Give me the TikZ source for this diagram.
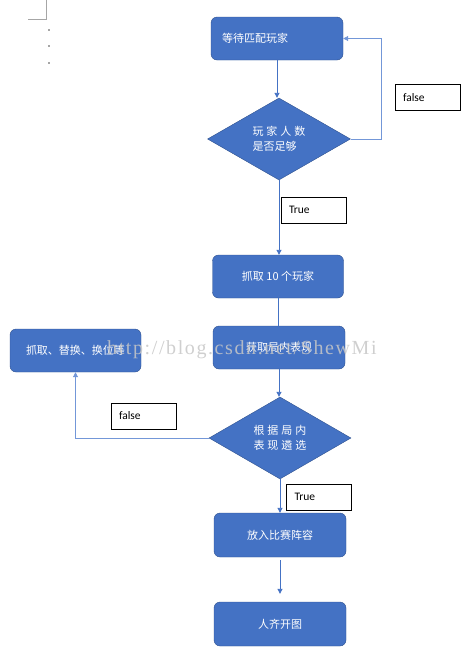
\documentclass[tikz,border=0pt]{standalone}
\usepackage{fontspec}
\setmainfont{Carlito}
\newfontfamily\cjk{Noto Sans CJK SC}
\newfontfamily\wmfont[LetterSpace=8]{Liberation Serif}
\usetikzlibrary{arrows.meta,shapes.geometric}
\definecolor{flblue}{HTML}{4472C4}
\definecolor{flborder}{HTML}{2F528F}
\definecolor{flloop}{HTML}{7397D8}
\definecolor{flmark}{HTML}{A6A6A6}
\newcommand{\gap}{\hspace{3pt}}
\tikzset{
  proc/.style = {rectangle, rounded corners=6pt, draw=flborder, fill=flblue,
                 minimum width=132pt, minimum height=43pt, text=white,
                 font=\cjk\fontsize{11}{14}\selectfont, align=center},
  cond/.style = {diamond, draw=flborder, fill=flblue, inner sep=0pt,
                 minimum width=143pt, minimum height=82pt, text=white,
                 font=\cjk\fontsize{11}{15}\selectfont, align=left},
  tag/.style  = {rectangle, draw=black, fill=white, minimum height=26pt,
                 text width=49pt, inner xsep=8pt, align=left,
                 font=\fontsize{11.5}{13}\selectfont},
  ed/.style   = {-{Triangle[length=5pt,width=5pt]}, draw=flblue, line width=0.9pt},
  edl/.style  = {-{Triangle[length=5pt,width=5pt]}, draw=flloop, line width=0.9pt},
  wm/.style   = {text=white!78!black, opacity=0.85, inner sep=0pt,
                 font=\wmfont\fontsize{20}{20}\selectfont},
}

\begin{document}
\begin{tikzpicture}[x=1pt,y=-1pt]
  \useasboundingbox (0,0) rectangle (468,670);
  % page marks
  \draw[flmark, line width=0.8pt] (28,19) -- (46,19) -- (46,0);
  \foreach \y in {31,47,64}{ \fill[flmark] (48,\y) rectangle +(1.5,-2); }

  \node[proc, text width=110pt, align=left] (wait) at (277,38.5) {等待匹配玩家};
  \node[cond] (enough) at (279,139) {玩\gap 家\gap 人\gap 数\\是否足够};
  \node[proc, minimum width=131pt] (grab) at (278,276.5) {抓取 10 个玩家};
  \node[proc] (perf) at (279,347.5) {获取局内表现};
  \node[cond, minimum width=142pt] (judge) at (280,438) {根\gap 据\gap 局\gap 内\\表\gap 现\gap 遴\gap 选};
  \node[proc, minimum width=131pt] (swap) at (75.5,350.5) {抓取、替换、换位等};
  \node[proc, minimum height=44pt] (lineup) at (280,535) {放入比赛阵容};
  \node[proc, minimum height=44pt] (start) at (280,624) {人齐开图};

  \node[tag] (f1) at (427.5,97.5) {false};
  \node[tag] (t1) at (313.5,210) {True};
  \node[tag] (f2) at (143.5,416) {false};
  \node[tag] (t2) at (319,497) {True};

  \draw[ed] (wait.south) -- (wait.south |- enough.north);
  \draw[edl] (enough.east) -- ++(31,0) |- (wait.east);
  \draw[ed] (enough.south) -- (enough.south |- grab.north);
  \draw[flblue, line width=0.9pt] (grab.south) -- (grab.south |- perf.north);
  \draw[ed] (perf.south) -- (perf.south |- judge.north);
  \draw[edl] (judge.west) -| (swap.south);
  \draw[ed] (judge.south) -- (judge.south |- lineup.north);
  \draw[ed, shorten <=3pt, shorten >=8pt] (lineup.south) -- (start.north);

  % watermark over the boxes
  \node[wm, anchor=base west] (mark) at (107,354) {http://blog.csdn.net/ShewMi};
\end{tikzpicture}
\end{document}
